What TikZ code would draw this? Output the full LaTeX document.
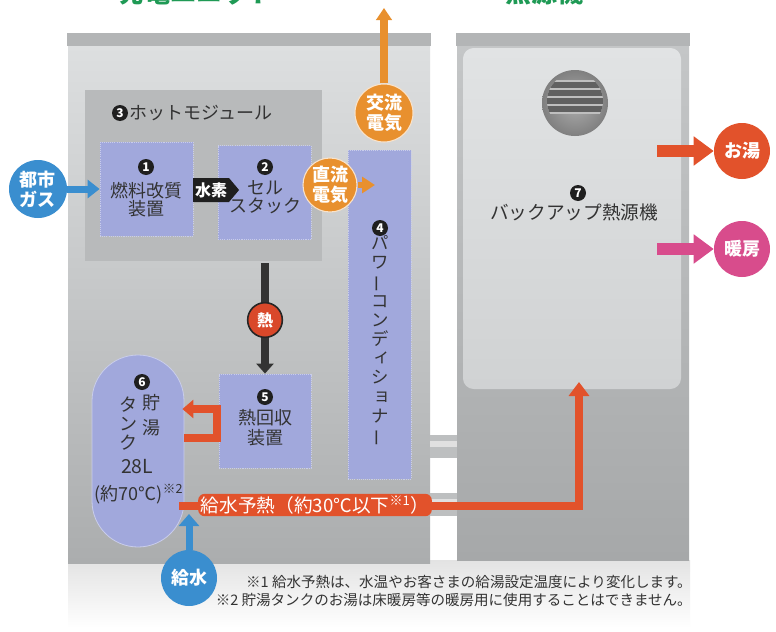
\documentclass[tikz,border=0pt]{standalone}
\usepackage{fontspec}
\setmainfont{Noto Sans CJK JP}
\usepackage{graphicx}
\usetikzlibrary{arrows.meta,shapes.symbols,calc}
\definecolor{lpTop}{HTML}{DDDFE0}
\definecolor{lpBot}{HTML}{ABADAE}
\definecolor{capgray}{HTML}{B3B5B6}
\definecolor{hotgray}{HTML}{B8BABB}
\definecolor{rfTop}{HTML}{C4C6C7}
\definecolor{rfBot}{HTML}{A6A8A9}
\definecolor{riTop}{HTML}{E1E3E4}
\definecolor{riBot}{HTML}{D0D2D3}
\definecolor{lav}{HTML}{A1A8DC}
\definecolor{lavedge}{HTML}{C9CDEB}
\definecolor{txtgray}{HTML}{333333}
\definecolor{gasblue}{HTML}{3A8ECF}
\definecolor{elorange}{HTML}{E8902E}
\definecolor{hotred}{HTML}{E2522B}
\definecolor{heatred}{HTML}{D9482A}
\definecolor{warmpink}{HTML}{D84C8C}
\definecolor{darkarrow}{HTML}{333333}
\definecolor{titlegreen}{HTML}{1F9A55}
\definecolor{pipegray}{HTML}{BDBFC0}
\tikzset{
  lavbox/.style={draw=lavedge, dash pattern=on 0.8pt off 0.8pt, line width=0.6pt, fill=lav, inner sep=0pt},
  txt/.style={text=txtgray, align=center, inner sep=0pt, font=\fontsize{13.5}{13.5}\selectfont},
  num/.style={circle, fill=black!88, text=white, inner sep=0pt, minimum size=12pt, font=\fontsize{9}{9}\selectfont\bfseries},
  bubble/.style={circle, inner sep=0pt, text=white, align=center, font=\fontsize{13.5}{15}\selectfont\bfseries},
  gasarrow/.style={draw=gasblue, line width=5.25pt, -{Triangle[length=9pt,width=13.5pt]}},
  acarrow/.style={draw=elorange, line width=6pt, -{Triangle[length=9pt,width=11.5pt]}},
  dcarrow/.style={draw=elorange, line width=4.5pt, -{Triangle[length=9.75pt,width=12pt]}},
  heatarrow/.style={draw=darkarrow, line width=6pt, -{Triangle[length=7.5pt,width=12.75pt]}},
  uarrow/.style={draw=hotred, line width=6pt, miter limit=10, -{Triangle[length=8.25pt,width=13.5pt]}},
  preheat/.style={draw=hotred, line width=6pt, -{Triangle[length=10.5pt,width=15pt]}},
  waterarrow/.style={draw=gasblue, line width=5.25pt, -{Triangle[length=9pt,width=15pt]}},
  outarrow/.style={line width=9pt, -{Triangle[length=15pt,width=21pt]}},
  titletxt/.style={text=titlegreen, inner sep=0pt, anchor=south west, font=\fontsize{19.5}{19.5}\selectfont\bfseries},
  foot/.style={text=txtgray, inner sep=0pt, anchor=east, font=\fontsize{10.9}{10.9}\selectfont}
}
\begin{document}
\begin{tikzpicture}[x=0.75pt,y=-0.75pt]
\useasboundingbox (0,0) rectangle (776,632);
\fill[white] (0,0) rectangle (776,632);
% titles (cut off at the top, as in the source)
\node[titletxt] (title1) at (118,5) {発電ユニット};
\node[titletxt] (title2) at (505,5) {熱源機};
% bottom fade
\shade[top color=black!11, bottom color=white] (68,560) rectangle (690,628);
% left unit
\shade[top color=lpTop, bottom color=lpBot] (68,45) rectangle (430,563);
\fill[capgray] (67,33) rectangle (431,46);
% right unit
\shade[top color=rfTop, bottom color=rfBot] (457,45) rectangle (689,560);
\fill[capgray] (456,33) rectangle (690,46);
\shade[rounded corners=8pt, top color=riTop, bottom color=riBot] (463,48) rectangle (681,389);
% pipes
\fill[pipegray] (430,435) rectangle (457,458);
\fill[black!12] (430,441) rectangle (457,447);
\fill[pipegray] (430,493) rectangle (457,516);
\fill[black!12] (430,499) rectangle (457,505);
% vent
\node[circle, minimum size=49.5pt, inner sep=0pt, inner color=black!32, outer color=black!50] (vent) at (575,103) {};
\begin{scope}
  \clip (575,101) circle[radius=21pt];
  \fill[black!25] (546,80) rectangle (604,114);
  \foreach \yy in {82,90,98,106} {\fill[black!62] (546,\yy) rectangle (604,\yy+6);}
\end{scope}
% backup unit label
\node[num] (n7) at (578,193) {7};
\node[txt, font=\fontsize{14}{14}\selectfont] (backup) at (574,212) {バックアップ熱源機};
% hot module
\node[fill=hotgray, minimum width=177.75pt, minimum height=128.25pt, inner sep=0pt] (hot) at (203.5,175.5) {};
\node[num] (n3) at (120,113) {3};
\node[txt, anchor=west, font=\fontsize{13.5}{13.5}\selectfont] (hotlabel) at (129,113) {ホットモジュール};
% boxes
\node[lavbox, minimum width=69.75pt, minimum height=70.5pt] (box1) at (146.5,189) {};
\node[num] (n1) at (146,167) {1};
\node[txt] (box1t) at (146,199.5) {燃料改質\\装置};
\node[lavbox, minimum width=69.75pt, minimum height=70.5pt] (box2) at (264.5,192.5) {};
\node[num] (n2) at (265,167) {2};
\node[txt] (box2t) at (265,197.5) {セル\\スタック};
\node[lavbox, minimum width=47.25pt, minimum height=246.75pt] (box4) at (379.5,314.5) {};
\node[num] (n4) at (380,228) {4};
\node[txt, font=\fontsize{13}{14.4}\selectfont] (box4t) at (380,341) {パ\\ワ\\\makebox[1em]{\rotatebox[origin=c]{90}{ー}}\\コ\\ン\\デ\\\makebox[1em]{\hspace{0.22em}\raisebox{0.12em}{ィ}}\\シ\\\makebox[1em]{\hspace{0.22em}\raisebox{0.12em}{ョ}}\\ナ\\\makebox[1em]{\rotatebox[origin=c]{90}{ー}}};
\node[lavbox, minimum width=69pt, minimum height=70.5pt] (box5) at (265,421) {};
\node[num] (n5) at (265,397) {5};
\node[txt, font=\fontsize{13.5}{15}\selectfont] (box5t) at (265,428) {熱回収\\装置};
% hydrogen label
\node[signal, signal to=east, signal pointer angle=100, fill=black!88, text=white, inner sep=1.5pt, minimum height=18pt, font=\fontsize{12}{12}\selectfont\bfseries] (h2) at (211,190) {水素};
% heat arrow
\draw[heatarrow] ([yshift=-1.5pt]box5.north |- hot.south) -- (box5.north);
\node[circle, fill=heatred, draw=black!85, line width=1.2pt, minimum size=26pt, inner sep=0pt, text=white, font=\fontsize{12}{12}\selectfont\bfseries] (heat) at (265,320) {熱};
% tank
\node[fill=lav, draw=lavedge, line width=0.6pt, minimum width=69pt, minimum height=144pt, rounded corners=34.5pt, inner sep=0pt] (tank) at (138,451) {};
\node[num] (n6) at (142,382) {6};
\node[txt, font=\fontsize{13.5}{18.75}\selectfont] (tankA) at (151,415.5) {貯\\湯};
\node[txt, font=\fontsize{13.5}{14.25}\selectfont] (tankB) at (128,424) {タ\\ン\\ク};
\node[txt, font=\fontsize{14.5}{14.5}\selectfont] (tankC) at (137,467) {28L};
\node[txt, font=\fontsize{13.5}{13.5}\selectfont] (tankD) at (139,494) {(約70℃)\textsuperscript{※2}};
% U arrow from heat recovery to tank
\coordinate (uLow) at (217,438);
\coordinate (uHigh) at (217,409);
\draw[uarrow] (tank.east |- uLow) -- (uLow) -- (uHigh) -- ([xshift=-1.5pt]tank.east |- uHigh);
% preheat line
\coordinate (preCorner) at (579,506);
\coordinate (preTip) at (579,382);
\draw[preheat] ([xshift=-4pt]tank.east |- preCorner) -- (preCorner) -- (preTip);
\node[fill=hotred, rounded corners=5pt, inner xsep=2pt, inner ysep=1.5pt, text=white, font=\fontsize{14}{14}\selectfont] (prelabel) at (315,505) {給水予熱（約30℃以下\textsuperscript{※1}）};
% city gas
\node[bubble, fill=gasblue, minimum size=43.5pt] (gas) at (38,189) {都市\\ガス};
\draw[gasarrow] (gas) -- (gas -| box1.west);
% DC electricity
\node[bubble, fill=elorange, draw=white!75!elorange, line width=0.8pt, minimum size=40.5pt] (dc) at (330,185) {直流\\電気};
\coordinate (dcTip) at (375,185);
\draw[dcarrow] (dc) -- (dcTip);
% AC electricity
\node[bubble, fill=elorange, draw=white!75!elorange, line width=0.8pt, minimum size=43.5pt] (ac) at (384,113) {交流\\電気};
\coordinate (acTip) at (384,8);
\draw[acarrow] (ac) -- (acTip);
% water supply
\node[bubble, fill=gasblue, minimum size=42pt] (water) at (189,578) {給水};
\coordinate (waterTip) at (189,514);
\draw[waterarrow] (water) -- (waterTip);
% outputs
\node[bubble, fill=hotred, minimum size=42pt] (oyu) at (742,151) {お湯};
\coordinate (oyuStart) at (657,151);
\draw[outarrow, draw=hotred] (oyuStart) -- (oyu);
\node[bubble, fill=warmpink, minimum size=42pt] (danbo) at (742,249) {暖房};
\coordinate (danboStart) at (657,249);
\draw[outarrow, draw=warmpink] (danboStart) -- (danbo);
% footnotes
\node[foot] (foot1) at (692,582) {※1 給水予熱は、水温やお客さまの給湯設定温度により変化します。};
\node[foot] (foot2) at (692,600) {※2 貯湯タンクのお湯は床暖房等の暖房用に使用することはできません。};
\end{tikzpicture}
\end{document}
